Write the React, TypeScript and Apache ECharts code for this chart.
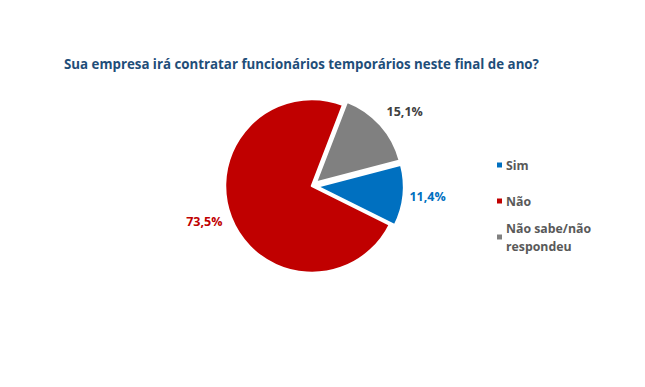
import React, { useEffect, useRef } from "react";
import * as echarts from "echarts";

const title = "Sua empresa irá contratar funcionários temporários neste final de ano?";
const categories = ["Sim", "Não", "Não sabe/não respondeu"];
const values = [11.4, 73.5, 15.1];
const colors = ["#0070C0", "#C00000", "#808080"];
const labelColors = ["#0070C0", "#C00000", "#404040"];

export default function App() {
  const ref = useRef<HTMLDivElement>(null);
  useEffect(() => {
    document.body.style.margin = "0";
    const chart = echarts.init(ref.current!, null, { renderer: "svg" });
    const font = "'Open Sans', 'Liberation Sans', sans-serif";
    const labelShift = [
      { dx: -7, dy: 0 },
      { dx: 4, dy: 1 },
      { dx: -5, dy: -8 },
    ];
    chart.setOption({
      animation: false,
      backgroundColor: "#ffffff",
      title: {
        text: title,
        left: 59,
        top: 52,
        textStyle: { fontFamily: font, fontSize: 13.3, fontWeight: "bold", color: "#1F4E79" },
      },
      legend: {
        orient: "vertical",
        left: 490,
        top: 133,
        itemWidth: 7,
        itemHeight: 7,
        itemGap: -18,
        icon: "rect",
        selectedMode: false,
        formatter: (n: string) => (n === categories[2] ? "Não sabe/não\nrespondeu" : n),
        textStyle: {
          fontFamily: font,
          fontSize: 12.3,
          fontWeight: "bold",
          color: "#595959",
          lineHeight: 18,
          padding: [18, 0, 18, -2],
        },
        data: categories.map((c, i) =>
          i === 2 ? { name: c, textStyle: { padding: [18, 0, 0, -2] } } : { name: c }
        ),
      },
      series: [
        {
          type: "pie",
          center: [312, 186],
          radius: 87,
          startAngle: 14.6,
          clockwise: true,
          selectedMode: "multiple",
          selectedOffset: 5,
          itemStyle: { borderColor: "#ffffff", borderWidth: 2.5 },
          label: {
            show: true,
            position: "outside",
            fontFamily: font,
            fontSize: 12.5,
            fontWeight: "bold",
            formatter: (p: any) => p.value.toFixed(1).replace(".", ",") + "%",
          },
          labelLine: { show: false, length: 8, length2: 0 },
          labelLayout: (p: any) => labelShift[p.dataIndex],
          emphasis: { disabled: true },
          data: categories.map((c, i) => ({
            name: c,
            value: values[i],
            selected: i !== 1,
            itemStyle: { color: colors[i] },
            label: { color: labelColors[i] },
          })),
        },
      ],
    });
    return () => chart.dispose();
  }, []);
  return <div ref={ref} style={{ width: 645, height: 387 }} />;
}
